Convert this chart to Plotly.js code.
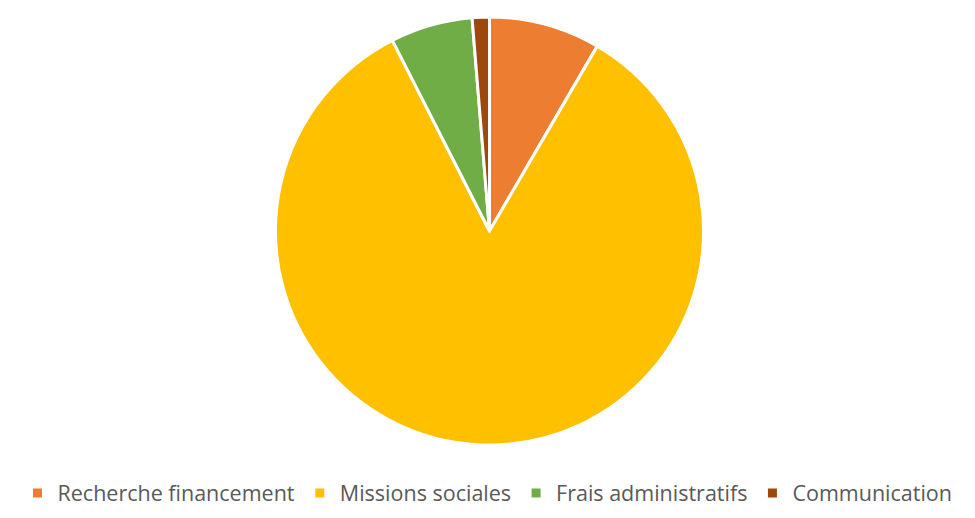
<!DOCTYPE html>
<html>
<head>
<meta charset="utf-8">
<script src="https://cdn.plot.ly/plotly-3.0.1.min.js"></script>
<style>html,body{margin:0;padding:0;background:#fff}#chart{width:975px;height:518px}</style>
</head>
<body>
<div id="chart"></div>
<script>
var categories = ["Recherche financement", "Missions sociales", "Frais administratifs", "Communication"];
var values = [8.4, 84.1, 6.2, 1.3];
var colors = ["#ED7D31", "#FFC000", "#70AD47", "#9E480E"];

var trace = {
  type: "pie",
  labels: categories,
  values: values,
  sort: false,
  direction: "clockwise",
  rotation: 0,
  textinfo: "none",
  hoverinfo: "label+percent",
  marker: {colors: colors, line: {color: "#ffffff", width: 3}},
  domain: {x: [(489.5 - 214) / 975, (489.5 + 214) / 975], y: [1 - 445 / 518, 1 - 17 / 518]}
};

var layout = {
  width: 975,
  height: 518,
  margin: {l: 0, r: 0, t: 0, b: 0},
  paper_bgcolor: "#ffffff",
  showlegend: true,
  legend: {
    orientation: "h",
    x: 0.5,
    xanchor: "center",
    y: 1 - 493 / 518,
    yanchor: "middle",
    font: {family: "Open Sans, sans-serif", size: 21.5, color: "#595959"},
    itemwidth: 30,
    traceorder: "normal"
  }
};

Plotly.newPlot("chart", [trace], layout, {displayModeBar: false, staticPlot: true});
</script>
</body>
</html>
